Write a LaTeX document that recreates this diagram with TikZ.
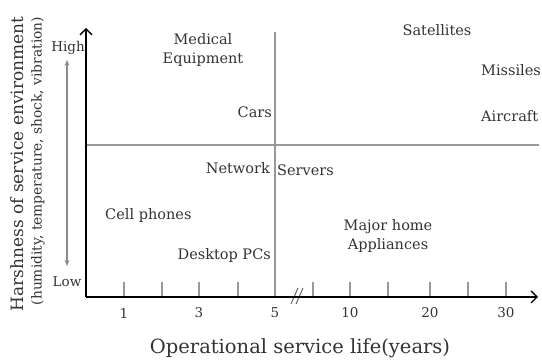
\documentclass[tikz,border=0pt]{standalone}
\usepackage{fontspec}
\setmainfont{DejaVu Serif}
\usetikzlibrary{arrows.meta}

\begin{document}
\begin{tikzpicture}[x=1pt,y=-1pt,
  lbl/.style={font=\fontsize{14.5}{19}\selectfont,text=black!80,inner sep=0pt,align=center},
  ticklbl/.style={font=\fontsize{13.5}{16}\selectfont,text=black!80,inner sep=0pt},
  guide/.style={draw=black!40,line width=1.2pt},
  axis/.style={draw=black,line width=1.5pt,-{Straight Barb[length=6pt,width=12pt,line width=1.3pt]}}]
\useasboundingbox (0,0) rectangle (542,363);
\coordinate (O) at (86,297);
\coordinate (Xend) at (538,297);
\coordinate (Yend) at (86,28);
\coordinate (Vtop) at (275,32);
\coordinate (Vbot) at (275,297);
\coordinate (Hleft) at (86,145);
\coordinate (Hright) at (539,145);
% quadrant lines
\draw[guide] (Vtop)--(Vbot);
\draw[guide] (Hleft)--(Hright);
% ticks
\foreach \tx in {124,162,199,238,313,350,388,430,468,506}
  \draw[guide] (\tx,282)--(\tx,297);
\foreach \tx/\tl in {124/1,199/3,275/5,350/10,430/20,506/30}
  \node[ticklbl] (t\tl) at (\tx,313) {\tl};
% axis break
\draw[black!60,line width=1pt] (291,304)--(298,288) (296,304)--(303,288);
% axes
\draw[axis] (O)--(Xend);
\draw[axis] (O)--(Yend);
% high/low arrow
\node[ticklbl] (high) at (68,48) {High};
\node[ticklbl] (low) at (67,282) {Low};
\draw[black!45,line width=1.2pt,{Stealth[length=6pt,width=5pt]}-{Stealth[length=6pt,width=5pt]}] (67,60)--(67,266);
% axis titles
\node[font=\fontsize{19.5}{22}\selectfont,text=black!80,inner sep=0pt] (xlab) at (300,348) {Operational service life(years)};
\node[font=\fontsize{17}{20}\selectfont,text=black!80,inner sep=0pt,rotate=90] (ylab) at (17,164) {Harshness of service environment};
\node[font=\fontsize{13.8}{16}\selectfont,text=black!80,inner sep=0pt,rotate=90] (ylabsub) at (38,161) {(humidity, temperature, shock, vibration)};
% products
\node[lbl] (medical) at (203,50) {Medical\\Equipment};
\node[lbl,anchor=east] (cars) at (272,112) {Cars};
\node[lbl] (satellites) at (437,30) {Satellites};
\node[lbl,anchor=west] (missiles) at (481,70) {Missiles};
\node[lbl,anchor=west] (aircraft) at (481,116) {Aircraft};
\node[lbl,anchor=east] (network) at (270,168) {Network};
\node[lbl,anchor=west] (servers) at (277,170) {Servers};
\node[lbl,anchor=west] (cell) at (105,216) {Cell phones};
\node[lbl,anchor=east] (desktop) at (271,256) {Desktop PCs};
\node[lbl] (appliances) at (388,236) {Major home\\Appliances};
\end{tikzpicture}
\end{document}
